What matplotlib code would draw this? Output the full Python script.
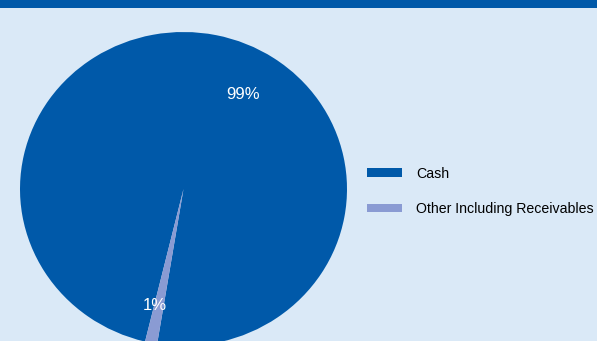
import matplotlib
matplotlib.use("Agg")
import matplotlib.pyplot as plt
from matplotlib.patches import Rectangle
from matplotlib.textpath import TextPath
from matplotlib.font_manager import FontProperties

categories = ["Cash", "Other Including Receivables"]
values = [98.8, 1.2]
colors = ["#0059A9", "#8A9BD3"]
label_pos = [(0.364, 0.599), (-0.174, -0.739)]

font = "Liberation Sans"
# choose legend font size so the longest label spans ~176 px
tp = TextPath((0, 0), categories[1], prop=FontProperties(family=font, size=10))
w10 = tp.get_extents().width * 100 / 72
leg_size = 10 * 175 / w10

W, H = 597, 341
fig = plt.figure(figsize=(W / 100, H / 100), dpi=100)
fig.patch.set_facecolor("#DAE9F7")
fig.patches.append(Rectangle((0, (H - 8) / H), 1, 8 / H, transform=fig.transFigure,
                             facecolor="#0059A9", edgecolor="none"))

# ellipse: center (183.5,189) px, a=163.5, b=157
ax = fig.add_axes([20 / W, (H - 346) / H, 327 / W, 314 / H])
ax.set_facecolor("none")
wedges, _ = ax.pie(values, colors=colors, startangle=256.4, counterclock=False,
                   radius=1.0, wedgeprops=dict(linewidth=0))
ax.set_aspect("auto")
ax.set_xlim(-1, 1)
ax.set_ylim(-1, 1)
ax.axis("off")

for v, (x, y) in zip(values, label_pos):
    ax.text(x, y, f"{v:.0f}%", color="white", fontsize=12, ha="center", va="center",
            family=font)

hl = 35 / (leg_size * 100 / 72)
leg = fig.legend(wedges, categories, loc="upper left", bbox_to_anchor=(354 / W, 1 - 154 / H),
                 frameon=False, handlelength=hl, handleheight=0.55,
                 handletextpad=1.05, labelspacing=1.5, prop=dict(family=font, size=leg_size))
fig.savefig("out.png", dpi=100, facecolor=fig.get_facecolor())
